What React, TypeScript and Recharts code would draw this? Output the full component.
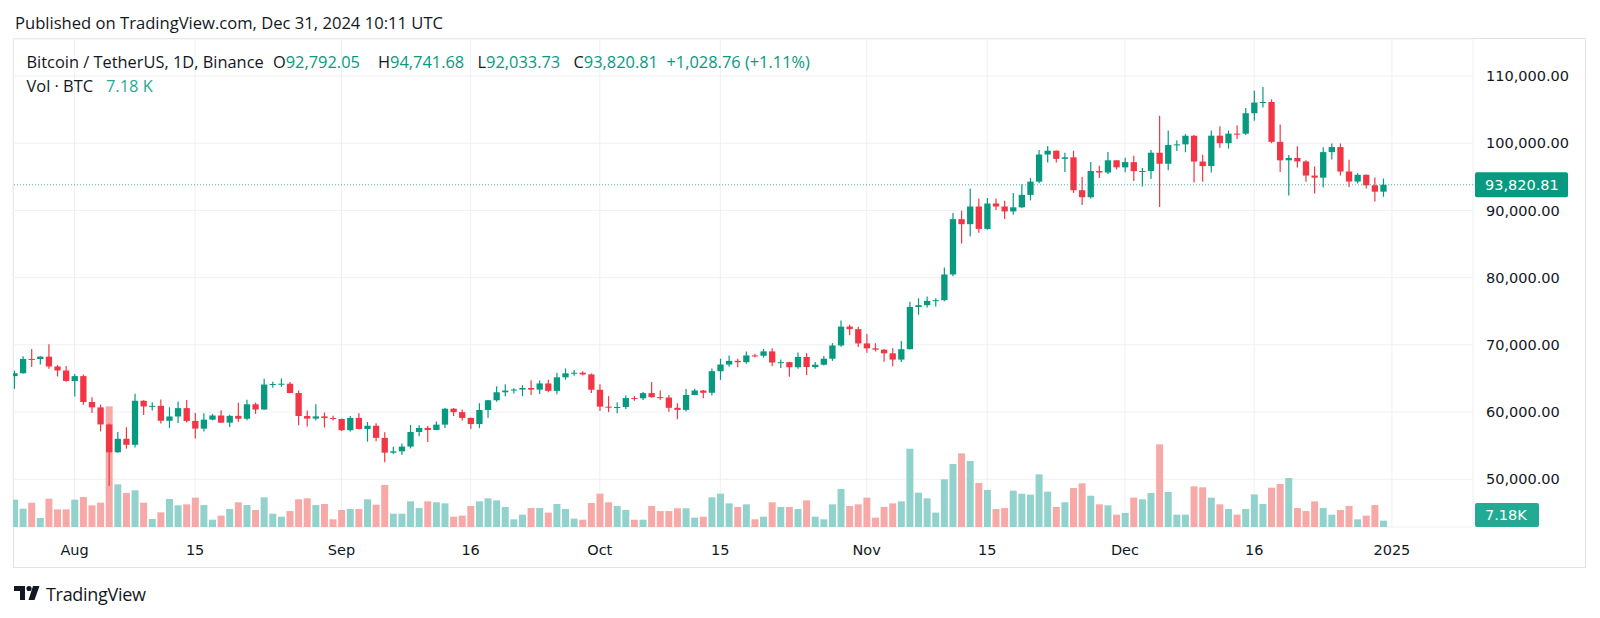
import React from 'react';
import { ComposedChart, Bar, XAxis, YAxis, CartesianGrid, ReferenceLine, Cell } from 'recharts';

// BTCUSDT daily, Jul 25 2024 .. Dec 31 2024 (t = days since Jul 25)
const open = [
  65357, 65777, 67907, 67896, 68249, 66784, 66188,
  64628, 65354, 61498, 60697, 58161, 54018, 56022, 55134, 61685, 60837, 60923, 58712, 59346, 60587, 58683, 57541,
  58874, 59491, 58427, 59438, 59013, 61157, 60381, 64094, 64178, 64220, 62834, 59416, 59034, 59359, 59123,
  58973, 57301, 59132, 57487, 57970, 56160, 53962, 54160, 54869, 57042, 57635, 57338, 58132, 60498, 59993,
  59132, 58213, 60309, 61759, 62947, 63201, 63348, 63578, 63339, 64262, 63152, 65173, 65769, 65858, 65603,
  63327, 60805, 60649, 60752, 62086, 62058, 62819, 62224, 62161, 60636, 60326, 62540, 63206, 62870, 66083, 67074,
  67620, 67421, 68428, 68379, 69031, 67377, 67426, 66668, 68199, 66698, 67042, 67939, 69908, 72720, 72339,
  70215, 69482, 69289, 68741, 67811, 69359, 75640, 75904, 76538, 76649, 80475, 88701, 87955, 90584, 87250,
  91032, 90587, 89855, 90464, 92310, 94287, 98317, 98892, 97672, 97901, 93010, 91966, 95863, 95643, 97460,
  96407, 97185, 95840, 95865, 98587, 96945, 99740, 99831, 101109, 97276, 96593, 101125, 100004, 101424, 101420,
  104463, 106058, 106133, 100204, 97461, 97805, 97292, 95186, 94877, 98676, 99429, 95792, 94299, 95300, 93738, 92792,
];
const high = [
  66175, 68300, 69399, 68318, 70079, 67000, 66849,
  65660, 65596, 62198, 61117, 58305, 57040, 57736, 62745, 61744, 61470, 61858, 60711, 61578, 61800, 59849, 59817,
  59700, 60284, 59617, 61400, 61820, 61400, 64955, 64513, 65000, 64481, 63213, 60234, 61166, 59944, 59462,
  59054, 59425, 59809, 58519, 58327, 56995, 54850, 55317, 58088, 58044, 57981, 58589, 60625, 60610, 60381,
  59211, 61320, 61786, 63850, 64133, 63559, 64000, 64745, 64688, 64817, 65839, 66498, 66260, 66076, 65723,
  64130, 62370, 61477, 62484, 62370, 62975, 64478, 63200, 62543, 61321, 63417, 63480, 63285, 66500, 67950, 68424,
  67939, 69000, 68694, 69400, 69500, 67836, 67472, 68850, 68771, 67454, 68332, 70270, 73620, 72985, 72700,
  71632, 70253, 69387, 69480, 70576, 76400, 76943, 77199, 76937, 81500, 89604, 89956, 93265, 91765, 91850,
  91779, 91449, 92594, 93905, 94831, 98988, 99588, 98908, 98564, 98871, 94973, 97208, 96650, 98693, 97463,
  97836, 98130, 96305, 99000, 104088, 101898, 100439, 101350, 101215, 98270, 101888, 102540, 101895, 102650, 105250,
  107793, 108353, 106524, 102800, 98233, 99540, 97448, 96539, 99416, 99963, 99963, 97544, 95525, 95350, 94903, 94741.68,
];
const low = [
  63456, 65750, 66705, 67066, 66428, 65302, 64530,
  62302, 61100, 59850, 57122, 49000, 53955, 54558, 54730, 59575, 60242, 58286, 57642, 58392, 58433, 56078, 57098,
  58785, 58408, 57787, 58548, 58783, 59724, 60345, 63619, 63773, 62800, 58034, 57860, 58741, 57700, 58744,
  57201, 57128, 57415, 55606, 55643, 52550, 53745, 53629, 54591, 56386, 55545, 57312, 57633, 59400, 58696,
  57493, 57610, 59175, 61555, 62350, 62758, 62357, 62538, 62700, 62947, 62670, 64819, 65422, 65432, 62856,
  60164, 59982, 59828, 60460, 61689, 61798, 62128, 61824, 60044, 58946, 60087, 62487, 62050, 62457, 64800, 66750,
  66666, 67192, 68145, 68100, 66800, 66571, 65260, 66457, 65521, 66439, 66913, 67618, 69730, 71436, 69685,
  68820, 69030, 67478, 66803, 67458, 69298, 74480, 75559, 75714, 76492, 80216, 85072, 86127, 86668, 87124,
  90056, 88722, 89376, 90357, 91500, 94040, 97122, 97136, 95734, 92600, 90791, 91792, 94827, 95407, 96092,
  95693, 94395, 93578, 94660, 90500, 95981, 98844, 98657, 94150, 94256, 95658, 99311, 99205, 100610, 101237,
  103333, 105322, 100000, 95700, 92232, 96398, 94250, 92520, 93404, 97596, 95200, 93500, 94016, 93263, 91317, 92033.73,
];
const close = [
  65777, 67907, 67896, 68249, 66784, 66188, 64628,
  65354, 61498, 60697, 58161, 54018, 56022, 55134, 61685, 60837, 60923, 58712, 59346, 60587, 58683, 57541, 58874,
  59491, 58427, 59438, 59013, 61157, 60381, 64094, 64178, 64220, 62834, 59416, 59034, 59359, 59123, 58973,
  57301, 59132, 57487, 57970, 56160, 53962, 54160, 54869, 57042, 57635, 57338, 58132, 60498, 59993, 59132,
  58213, 60309, 61759, 62947, 63201, 63348, 63578, 63339, 64262, 63152, 65173, 65769, 65858, 65603, 63327,
  60805, 60649, 60752, 62086, 62058, 62819, 62224, 62161, 60636, 60326, 62540, 63206, 62870, 66083, 67074, 67620,
  67421, 68428, 68379, 69031, 67377, 67426, 66668, 68199, 66698, 67042, 67939, 69908, 72720, 72339, 70215,
  69482, 69289, 68741, 67811, 69359, 75640, 75904, 76538, 76649, 80475, 88701, 87955, 90584, 87250, 91032,
  90587, 89855, 90464, 92310, 94287, 98317, 98892, 97672, 97901, 93010, 91966, 95863, 95643, 97460, 96407,
  97185, 95840, 95865, 98587, 96945, 99740, 99831, 101109, 97276, 96593, 101125, 100004, 101424, 101420, 104463,
  106058, 106133, 100204, 97461, 97805, 97292, 95186, 94877, 98676, 99429, 95792, 94299, 95300, 93738, 92792, 93820.81,
];
// volume, thousands of BTC
const volume = [
  31.0, 20.8, 27.6, 10.2, 32.1, 20.0, 20.0,
  31.0, 34.0, 24.6, 27.6, 136.8, 48.4, 38.6, 41.6, 27.6, 9.1, 16.6, 31.8, 24.6, 25.7, 33.3, 24.9,
  8.3, 12.9, 20.4, 28.0, 24.9, 19.3, 33.6, 15.1, 11.7, 18.1, 31.4, 32.5, 24.9, 26.1, 8.7,
  19.3, 20.4, 20.4, 31.4, 25.3, 47.6, 15.1, 15.1, 29.1, 21.5, 29.1, 28.0, 26.8, 11.7, 12.9,
  23.8, 29.1, 32.5, 30.2, 22.7, 8.7, 14.0, 21.5, 21.5, 16.3, 26.1, 20.4, 9.5, 8.3, 27.2,
  37.8, 28.0, 23.8, 19.3, 8.3, 8.3, 23.8, 18.1, 18.1, 21.2, 21.2, 10.6, 11.7, 33.6, 37.8, 26.8,
  22.7, 25.7, 8.7, 11.7, 28.0, 22.7, 22.7, 20.4, 30.2, 11.7, 8.7, 25.7, 43.1, 23.8, 25.7,
  33.3, 10.6, 22.7, 26.8, 29.1, 88.8, 38.9, 32.5, 16.3, 54.1, 71.4, 83.5, 74.8, 49.9, 42.0,
  20.4, 21.5, 41.2, 37.8, 36.7, 59.7, 40.1, 22.7, 28.0, 44.2, 49.5, 35.5, 25.7, 24.6, 14.0,
  15.9, 33.3, 31.4, 38.6, 93.7, 39.7, 14.0, 14.0, 46.1, 45.0, 33.3, 25.7, 20.4, 14.0, 20.4,
  37.0, 26.1, 44.6, 48.8, 55.6, 21.5, 18.1, 29.1, 21.5, 14.0, 19.3, 23.8, 8.7, 12.9, 24.9, 7.18,
];

const priceTicks = [50000, 60000, 70000, 80000, 90000, 100000, 110000];
const dayTicks = [7, 21, 38, 53, 68, 82, 99, 113, 129, 144, 160];
const dayLabels = ['Aug', '15', 'Sep', '16', 'Oct', '15', 'Nov', '15', 'Dec', '16', '2025'];

const UP = '#089981';
const DOWN = '#f23645';
const VOL_UP = '#92d2cc';
const VOL_DOWN = '#f7a9a7';
const TEXT = '#131722';
const AXIS_FONT = '"DejaVu Sans", sans-serif';
const UI_FONT = '"Open Sans", sans-serif';

const rows = open.map((o, i) => ({
  t: i,
  open: o,
  high: high[i],
  low: low[i],
  close: close[i],
  vol: volume[i],
  range: [low[i], high[i]],
}));

const last = rows[rows.length - 1];
const fmt = (v: number) => v.toLocaleString('en-US', { minimumFractionDigits: 2, maximumFractionDigits: 2 });

const Candle = (props: any) => {
  const { x, y, width, height, payload } = props;
  if (!payload) return null;
  const { open: o, close: c, high: h, low: l } = payload;
  const top = height >= 0 ? y : y + height;
  const span = Math.abs(height);
  const k = h > l ? span / (h - l) : 0;
  const cx = x + width / 2;
  const yo = top + (h - o) * k;
  const yc = top + (h - c) * k;
  const color = c >= o ? UP : DOWN;
  return (
    <g>
      <line x1={cx} x2={cx} y1={top} y2={top + span} stroke={color} strokeWidth={1.2} />
      <rect x={cx - 3.15} y={Math.min(yo, yc)} width={6.3} height={Math.max(1, Math.abs(yo - yc))} fill={color} />
    </g>
  );
};

const PriceTag = (props: any) => {
  const vb = props.viewBox;
  if (!vb) return null;
  const x = vb.x + vb.width + 2;
  return (
    <g>
      <rect x={x} y={vb.y - 12.5} width={93} height={25} rx={2} fill={UP} />
      <text x={x + 10} y={vb.y} dy="0.36em" fill="#fff" fontSize={14.5} fontFamily={AXIS_FONT}>
        {fmt(last.close)}
      </text>
    </g>
  );
};

const VolTag = (props: any) => {
  const vb = props.viewBox;
  if (!vb) return null;
  const x = vb.x + vb.width + 2;
  const cy = Math.min(vb.y, 515);
  return (
    <g>
      <rect x={x} y={cy - 12} width={64} height={24} rx={2} fill="#22ab94" />
      <text x={x + 10} y={cy} dy="0.36em" fill="#fff" fontSize={14.5} fontFamily={AXIS_FONT}>
        {last.vol.toFixed(2)}K
      </text>
    </g>
  );
};

const legendLabel: React.CSSProperties = { position: 'absolute', whiteSpace: 'nowrap', lineHeight: '20px' };
const HF = 16.4;

export default function App() {
  return (
    <div style={{ position: 'absolute', left: 0, top: 0, width: 1600, height: 618, background: '#fff', overflow: 'hidden', fontFamily: UI_FONT, color: TEXT }}>
      <div style={{ ...legendLabel, left: 15, top: 12.7, fontSize: 16.6 }}>Published on TradingView.com, Dec 31, 2024 10:11 UTC</div>
      <div style={{ position: 'absolute', left: 13, top: 38, width: 1573, height: 530, border: '1px solid #e0e3eb', boxSizing: 'border-box' }} />
      <ComposedChart
        width={1600}
        height={618}
        data={rows}
        margin={{ top: 39, right: 15, bottom: 61, left: 13 }}
        style={{ position: 'absolute', left: 0, top: 0 }}
      >
        <XAxis
          xAxisId="p"
          dataKey="t"
          type="number"
          domain={[-0.15, 169.42]}
          allowDataOverflow
          ticks={dayTicks}
          tickFormatter={(v: number) => dayLabels[dayTicks.indexOf(v)] ?? ''}
          axisLine={false}
          tickLine={false}
          tickSize={0}
          tickMargin={18}
          height={30}
          interval={0}
          tick={{ fill: TEXT, fontSize: 14.5, fontFamily: AXIS_FONT }}
        />
        <XAxis xAxisId="v" dataKey="t" type="number" domain={[-0.15, 169.42]} allowDataOverflow hide />
        <YAxis
          yAxisId="p"
          orientation="right"
          domain={[42903, 115505]}
          allowDataOverflow
          ticks={priceTicks}
          tickFormatter={fmt}
          axisLine={false}
          tickLine={false}
          tickSize={0}
          tickMargin={13}
          width={112}
          interval={0}
          tick={{ fill: TEXT, fontSize: 14.5, fontFamily: AXIS_FONT, textAnchor: 'start' }}
        />
        <YAxis yAxisId="v" domain={[0, 553.4]} allowDataOverflow hide />
        <CartesianGrid xAxisId="p" yAxisId="p" stroke="#eef0f5" />
        <Bar xAxisId="v" yAxisId="v" dataKey="vol" barSize={7} isAnimationActive={false}>
          {rows.map((r, i) => (
            <Cell key={i} fill={r.close >= r.open ? VOL_UP : VOL_DOWN} />
          ))}
        </Bar>
        <ReferenceLine xAxisId="p" yAxisId="p" y={last.close} stroke={UP} strokeDasharray="1 2" strokeOpacity={0.7} label={<PriceTag />} />
        <ReferenceLine xAxisId="v" yAxisId="v" y={last.vol} stroke="none" label={<VolTag />} />
        <Bar xAxisId="p" yAxisId="p" dataKey="range" barSize={7} shape={<Candle />} isAnimationActive={false} />
      </ComposedChart>
      <div style={{ ...legendLabel, left: 26.5, top: 51.7, fontSize: HF }}>Bitcoin / TetherUS, 1D, Binance</div>
      <div style={{ ...legendLabel, left: 273, top: 51.7, fontSize: HF }}>O<span style={{ color: UP }}>92,792.05</span></div>
      <div style={{ ...legendLabel, left: 378, top: 51.7, fontSize: HF }}>H<span style={{ color: UP }}>94,741.68</span></div>
      <div style={{ ...legendLabel, left: 477.5, top: 51.7, fontSize: HF }}>L<span style={{ color: UP }}>92,033.73</span></div>
      <div style={{ ...legendLabel, left: 573.5, top: 51.7, fontSize: HF }}>C<span style={{ color: UP }}>93,820.81</span></div>
      <div style={{ ...legendLabel, left: 666.5, top: 51.7, fontSize: HF, color: UP }}>+1,028.76 (+1.11%)</div>
      <div style={{ ...legendLabel, left: 26.5, top: 76, fontSize: HF }}>Vol · BTC</div>
      <div style={{ ...legendLabel, left: 106, top: 76, fontSize: HF, color: '#22ab94' }}>7.18 K</div>
      <svg style={{ position: 'absolute', left: 0, top: 580 }} width={48} height={30}>
        <path d="M14 6 H25 V20 H20 V11 H14 Z" fill={TEXT} />
        <circle cx={29} cy={8.5} r={2.6} fill={TEXT} />
        <path d="M33 6 H39.5 L34.5 20 H28.5 Z" fill={TEXT} />
      </svg>
      <div style={{ ...legendLabel, left: 46, top: 584, fontSize: 18, fontWeight: 500, letterSpacing: -0.3 }}>TradingView</div>
    </div>
  );
}
